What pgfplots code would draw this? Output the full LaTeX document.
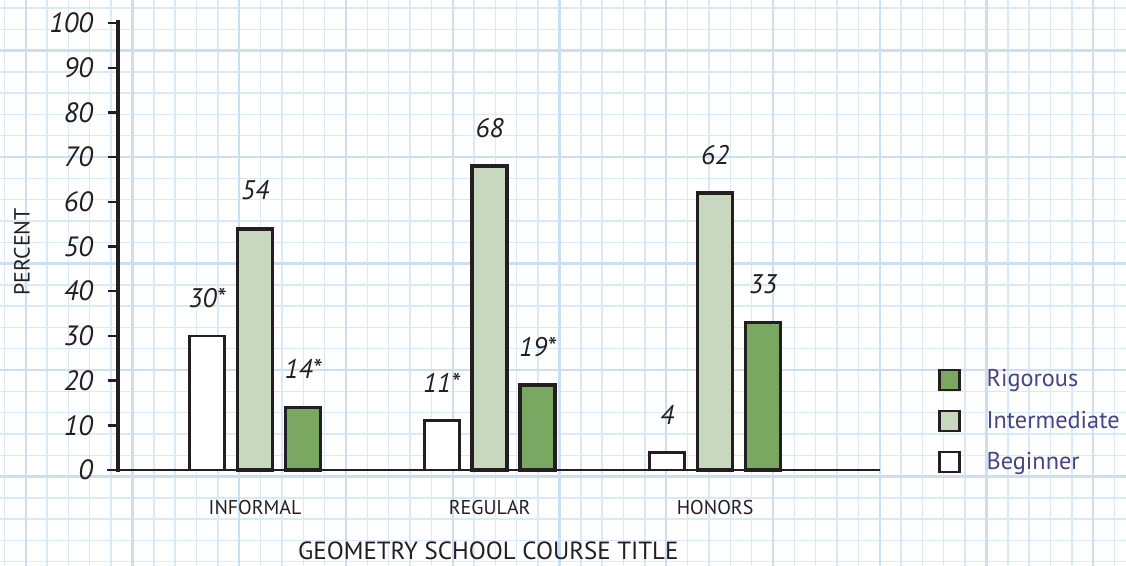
\documentclass[border=0pt]{standalone}
\usepackage{pgfplots}
\pgfplotsset{compat=1.18}
\usepackage{fontspec}
\setmainfont{PT Sans}

\definecolor{rig}{RGB}{122,168,98}
\definecolor{inter}{RGB}{200,216,190}
\definecolor{legtext}{RGB}{72,68,130}
\definecolor{gridmin}{RGB}{218,233,246}
\definecolor{gridmaj}{RGB}{203,223,241}
\definecolor{ink}{RGB}{35,31,32}

\begin{document}
\begin{tikzpicture}
% graph paper background (1 unit = 1 px of the reference)
\begin{scope}[x=0.5bp,y=-0.5bp]
  \fill[white] (0,0) rectangle (1126,566);
  \foreach \i in {0,...,52} {
    \pgfmathsetmacro\xx{4.4+\i*21.35}
    \draw[gridmin, line width=0.7bp] (\xx,0) -- (\xx,566);
  }
  \foreach \i in {0,...,26} {
    \pgfmathsetmacro\yy{8+\i*21.3}
    \draw[gridmin, line width=0.7bp] (0,\yy) -- (1126,\yy);
  }
  \foreach \i in {1,6,...,51} {
    \pgfmathsetmacro\xx{4.4+\i*21.35}
    \draw[gridmaj, line width=1.1bp] (\xx,0) -- (\xx,566);
  }
  \foreach \i in {2,7,...,26} {
    \pgfmathsetmacro\yy{8+\i*21.3}
    \draw[gridmaj, line width=1.1bp] (0,\yy) -- (1126,\yy);
  }
\end{scope}

\begin{axis}[
  at={(59bp,-235bp)}, anchor=south west,
  scale only axis,
  width=381bp, height=223.5bp,
  xmin=-0.596, xmax=2.717,
  ymin=0, ymax=100,
  ybar=6.5bp, bar width=17.5bp,
  axis lines*=left,
  x axis line style={ink, line width=0.7bp, shorten <=-5.5bp},
  y axis line style={ink, line width=1.7bp, shorten <=-1bp, shorten >=-1.5bp},
  xtick={0,1.02,2},
  xticklabels={INFORMAL,REGULAR,HONORS},
  xtick style={draw=none},
  xticklabel style={font=\fontsize{10}{12}\selectfont, text=ink, yshift=-6.5bp},
  ytick={0,10,...,100},
  ytick style={ink, line width=1.2bp},
  tick align=outside,
  major tick length=5bp,
  /pgf/number format/assume math mode=true,
  yticklabel style={font=\fontsize{14}{16}\selectfont\itshape, text=ink, xshift=-4bp},
  xlabel={GEOMETRY SCHOOL COURSE TITLE},
  xlabel style={font=\fontsize{12.5}{14}\selectfont, text=ink, at={(rel axis cs:0.486,0)}, anchor=north, yshift=-32.5bp},
  ylabel={PERCENT},
  ylabel style={font=\fontsize{11}{13}\selectfont, text=ink, at={(axis description cs:-0.126,0.488)}, anchor=center},
  nodes near coords,
  point meta=explicit symbolic,
  nodes near coords style={font=\fontsize{13.5}{15}\selectfont\itshape, text=ink, yshift=10bp},
  legend style={draw=none, fill=none, at={(1.068,0.243)}, anchor=north west,
    font=\fontsize{12.2}{14}\selectfont, text=legtext, row sep=6.5bp,
    /tikz/every odd column/.append style={column sep=11bp}},
  legend cell align=left,
  reverse legend,
  legend image code/.code={\draw[#1, line width=1.2bp, draw=ink] (0bp,-5bp) rectangle (10bp,5bp);},
  clip=false,
]
\addplot[draw=ink, fill=white, line width=1.4bp] coordinates {
  (0,30) [30*] (1.02,11) [11*] (2,4) [4]
};
\addlegendentry{Beginner}
\addplot[draw=ink, fill=inter, line width=1.9bp] coordinates {
  (0,54) [54] (1.02,68) [68] (2,62) [62]
};
\addlegendentry{Intermediate}
\addplot[draw=ink, fill=rig, line width=1.9bp] coordinates {
  (0,14) [14*] (1.02,19) [19*] (2,33) [33]
};
\addlegendentry{Rigorous}
\end{axis}

\pgfresetboundingbox
\path[use as bounding box] (0,0) rectangle (563bp,-283bp);
\end{tikzpicture}
\end{document}
